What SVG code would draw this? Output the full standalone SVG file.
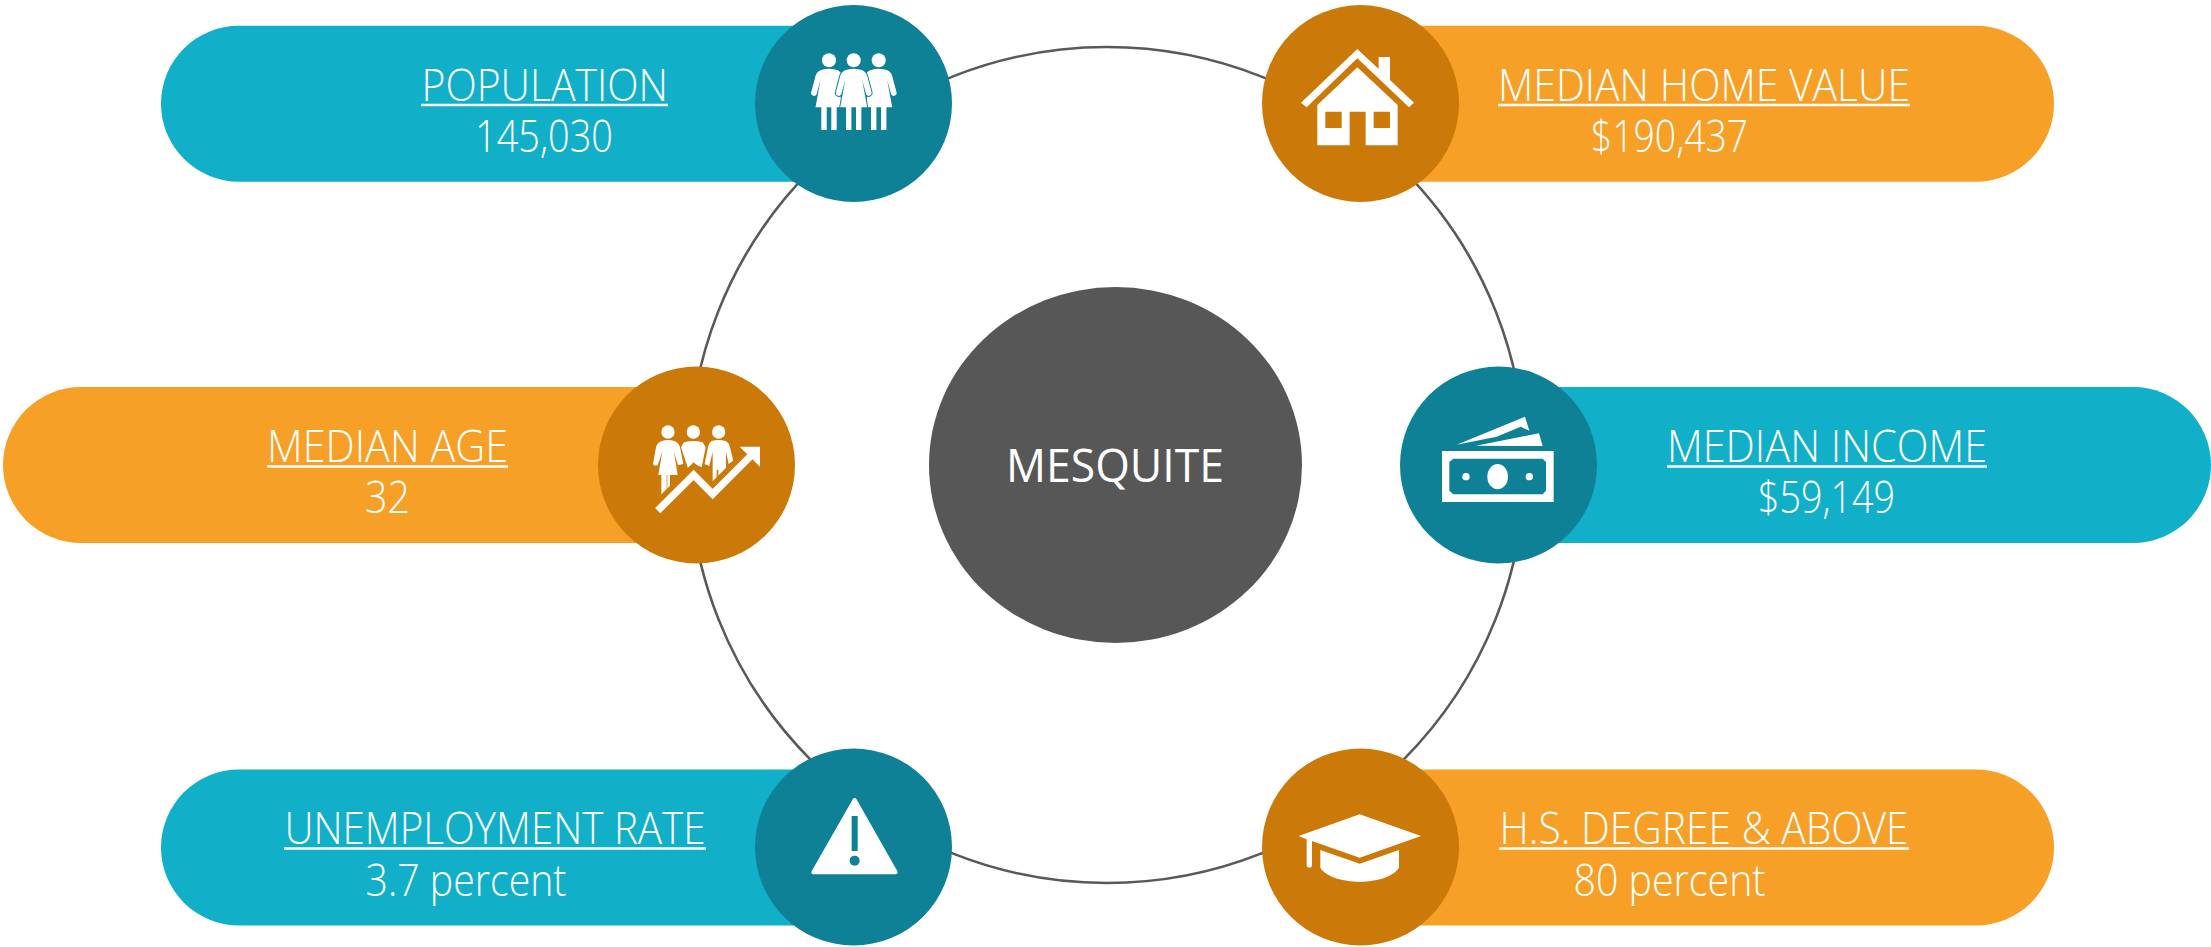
<svg xmlns="http://www.w3.org/2000/svg" width="2211" height="947" viewBox="0 0 2211 947">
<style>
.teal{fill:#12AFC8}.tealD{fill:#0E8196}.org{fill:#F6A027}.orgD{fill:#CB7908}
text{font-family:"Open Sans","Noto Sans","Liberation Sans",sans-serif;font-weight:300;font-size:44px;fill:#fff}
.c{font-weight:500;font-size:46px}
.u{stroke:#fff;stroke-width:2.6}
.i{fill:#fff}
</style>
<defs>
<path id="woman" d="M-6,69.5Q0,68 6,69.5Q12,70.5 13.5,76L18,93a3,3 0 0 1-5.500,1.500L8.500,80L13.500,107.300H7.700V130H2.300V107.300H-2.300V130H-7.700V107.300H-13.500L-8.500,80L-12.500,94.500a3,3 0 0 1-5.500,-1.500L-13.500,76Q-12,70.500-6,69.500Z"/>
</defs>
<rect width="2211" height="947" fill="#fff"/>
<g id="connectors"><ellipse cx="1107" cy="465" rx="418" ry="418" fill="none" stroke="#595959" stroke-width="2.6"/></g>
<g id="center"><ellipse cx="1115.5" cy="465" rx="186.5" ry="178" fill="#575757"/><text class="c" x="1006" y="482" textLength="218" lengthAdjust="spacingAndGlyphs">MESQUITE</text></g>

<g id="population">
<rect class="teal" x="161" y="25.700" width="760" height="156" rx="78"/>
<circle class="tealD" cx="853.5" cy="103.5" r="98.5"/>
<text x="421.500" y="100.700" textLength="246.500" lengthAdjust="spacingAndGlyphs">POPULATION</text><line class="u" x1="421" y1="105" x2="668" y2="105"/>
<text x="475" y="151.700" textLength="138" lengthAdjust="spacingAndGlyphs">145,030</text>
<g class="i">
<circle cx="829" cy="60.3" r="7"/><circle cx="853.7" cy="60.3" r="7"/><circle cx="878.7" cy="60.3" r="7"/>
<use href="#woman" x="829"/><use href="#woman" x="878.7"/>
<use href="#woman" x="853.7" stroke="#0E8196" stroke-width="2" paint-order="stroke"/>
</g></g>

<g id="home-value">
<rect class="org" x="1295" y="25.700" width="759" height="156" rx="78"/>
<circle class="orgD" cx="1360.5" cy="103.5" r="98.5"/>
<text x="1498" y="100.700" textLength="412" lengthAdjust="spacingAndGlyphs">MEDIAN HOME VALUE</text><line class="u" x1="1498" y1="105" x2="1910" y2="105"/>
<text x="1591" y="151.700" textLength="157" lengthAdjust="spacingAndGlyphs">$190,437</text>
<g transform="translate(1250 0) scale(.3333)" class="i">
<path d="M153,308L322,147L386,207V171H420V240L492,308L477,322L322,175L170,322Z"/>
<path fill-rule="evenodd" d="M322,202L443,315V436H347V335H299V436H202V315ZM226,335V384H275V335ZM371,335V384H420V335Z"/>
</g></g>

<g id="median-age">
<rect class="org" x="3" y="387" width="760" height="156" rx="78"/>
<circle class="orgD" cx="696.5" cy="465" r="98.5"/>
<text x="267" y="462" textLength="241" lengthAdjust="spacingAndGlyphs">MEDIAN AGE</text><line class="u" x1="267" y1="466.500" x2="508" y2="466.500"/>
<text x="365" y="513" textLength="45" lengthAdjust="spacingAndGlyphs">32</text>
<g transform="translate(590 360) scale(.3333)">
<g class="i">
<circle cx="234" cy="216" r="20"/><circle cx="310" cy="216" r="20"/><circle cx="386" cy="216" r="20"/>
<path d="M215,243Q234,237 253,243Q266,247 270,262L280,312L264,316L252,275L263,345H240V400H232V345H230V420H214V345H205L217,275L203,316Q192,320 189,312L198,262Q202,247 215,243Z"/>
<path d="M282,247Q310,239 338,247L347,262L335,322L310,310L294,325L273,262Z"/>
<path d="M365,243Q386,237 407,243Q417,247 420,262L430,302L416,312L408,275V400H385V330H380V400H368V275L358,318L344,312L354,262Q358,247 365,243Z"/>
</g>
<path d="M203,452L311,345L368,402L490,280" fill="none" stroke="#CB7908" stroke-width="54" stroke-linejoin="miter"/>
<path d="M203,452L311,345L368,402L482,288" fill="none" stroke="#fff" stroke-width="22" stroke-linejoin="miter"/>
<path class="i" d="M449,260H510V320Z"/>
</g></g>

<g id="median-income">
<rect class="teal" x="1451" y="387" width="760" height="156" rx="78"/>
<circle class="tealD" cx="1498.5" cy="465" r="98.5"/>
<text x="1667" y="462" textLength="320" lengthAdjust="spacingAndGlyphs">MEDIAN INCOME</text><line class="u" x1="1667" y1="466.500" x2="1987" y2="466.500"/>
<text x="1758" y="513" textLength="137" lengthAdjust="spacingAndGlyphs">$59,149</text>
<g transform="translate(1390 360) scale(.3333)" class="i">
<path fill-rule="evenodd" d="M156,273H491V426H156ZM190,296L178,306V392L190,403H458L468,392V306L458,296Z"/>
<circle cx="228" cy="350" r="11"/><circle cx="418" cy="350" r="11"/><ellipse cx="323" cy="350" rx="31" ry="38"/>
<path d="M200,254L405,170L418,212L392,200L320,230Z"/>
<path d="M258,257L447,220L458,258H378Z"/>
</g></g>

<g id="unemployment">
<rect class="teal" x="161" y="769.500" width="760" height="156" rx="78"/>
<circle class="tealD" cx="853.5" cy="847" r="98.5"/>
<text x="284.500" y="844.200" textLength="421" lengthAdjust="spacingAndGlyphs">UNEMPLOYMENT RATE</text><line class="u" x1="284" y1="848.500" x2="706" y2="848.500"/>
<text x="365.500" y="896" textLength="201" lengthAdjust="spacingAndGlyphs">3.7 percent</text>
<g transform="translate(750 745) scale(.3333)">
<path d="M314,165L190,382H437Z" fill="#fff" stroke="#fff" stroke-width="12" stroke-linejoin="round"/>
<rect class="tealD" x="305" y="213" width="18" height="105"/><circle class="tealD" cx="314" cy="347" r="15"/>
</g></g>

<g id="degree">
<rect class="org" x="1295" y="769.500" width="759" height="156" rx="78"/>
<circle class="orgD" cx="1360.5" cy="847" r="98.5"/>
<text x="1499.500" y="844.200" textLength="409" lengthAdjust="spacingAndGlyphs">H.S. DEGREE &amp; ABOVE</text><line class="u" x1="1499" y1="848.500" x2="1909" y2="848.500"/>
<text x="1573.500" y="896" textLength="192" lengthAdjust="spacingAndGlyphs">80 percent</text>
<g transform="translate(1250 745) scale(.3333)" class="i">
<path d="M329,208L513,273L329,338L186,288V360a8,8 0 0 1-16,0V283L146,273Z"/>
<path d="M211,315L329,356L447,315V368C430,395 380,410 329,410C278,410 228,395 211,368Z"/>
</g></g>
</svg>
